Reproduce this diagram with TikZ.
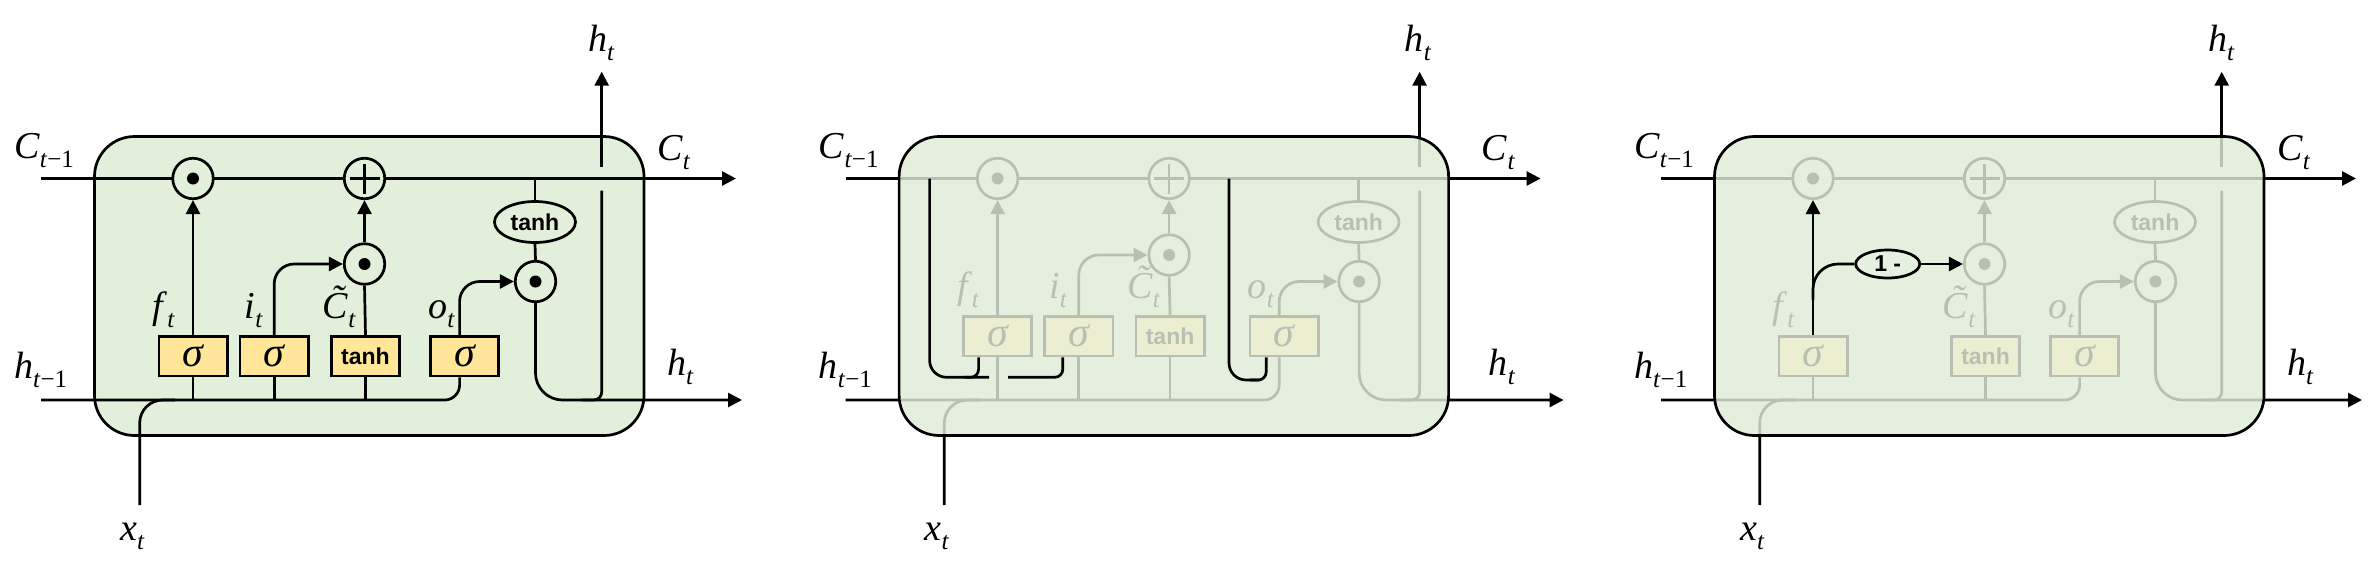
\documentclass[tikz,border=0pt]{standalone}
\usepackage{fontspec}
\setmainfont{Liberation Serif}
\setsansfont{Liberation Sans}
\usetikzlibrary{arrows.meta,shapes.geometric}
\definecolor{cellgreen}{HTML}{E2EFDA}
\definecolor{gateyellow}{HTML}{FFE699}
\definecolor{fadec}{HTML}{E6F0E0}
\pgfdeclarelayer{bgl}\pgfdeclarelayer{lines}\pgfdeclarelayer{over}\pgfdeclarelayer{top}
\pgfsetlayers{bgl,lines,main,over,top}
\newif\ifwithi
\newcommand\tanhtxt{{\sffamily\bfseries\fontsize{23}{25}\selectfont tanh}}
\newcommand\vlab[2]{\textit{#1}\raisebox{-9pt}{\fontsize{25}{27}\selectfont #2}}
\newcommand\tildeC{\textit{\rlap{\kern0.24em\raisebox{0.17em}{\char"02DC}}C}}
\newcommand\sigtxt{{\fontsize{42}{44}\selectfont\itshape σ}}
\tikzset{
  ln/.style={line width=2.7pt, draw=black},
  arr/.style={ln, -{Triangle[length=14pt,width=14pt]}},
  cellbox/.style={rectangle, inner sep=0pt, outer sep=0pt, minimum width=549.5pt, minimum height=299pt, fill=cellgreen, rounded corners=40pt},
  gate/.style={rectangle, ln, fill=gateyellow, minimum width=68.3pt, minimum height=39.6pt, inner sep=0pt},
  mul/.style={circle, ln, fill=cellgreen, minimum size=40.5pt, inner sep=0pt,
    path picture={\fill[black] (path picture bounding box.center) circle (6pt);}},
  addn/.style={circle, ln, fill=cellgreen, minimum size=40.5pt, inner sep=0pt,
    path picture={\draw[black, line width=2.7pt] (path picture bounding box.center) ++(-15pt,0pt) -- ++(30pt,0pt)
      (path picture bounding box.center) ++(0pt,-15pt) -- ++(0pt,30pt);}},
  thell/.style={ellipse, ln, fill=cellgreen, minimum width=81pt, minimum height=41pt, inner sep=0pt},
  onem/.style={ellipse, ln, fill=fadec, minimum width=64pt, minimum height=28pt, inner sep=0pt, font=\sffamily\bfseries\fontsize{23}{25}\selectfont},
  lab/.style={inner sep=0pt, font=\fontsize{38}{42}\selectfont},
}
\def\Cy{178.5}\def\Hy{400}
\newcommand\lstmcell[1]{%
  \begin{pgfonlayer}{bgl}
    \node[cellbox] (#1-cell) at (369.25,286) {};
  \end{pgfonlayer}
  \coordinate (#1-cin) at (41,\Cy);
  \coordinate (#1-cout) at (736,\Cy);
  \coordinate (#1-hin) at (41,\Hy);
  \coordinate (#1-hout) at (\htip,\Hy);
  \coordinate (#1-xin) at (139.7,505);
  \coordinate (#1-xj) at (175,\Hy);
  \coordinate (#1-hj) at (\hupx-20,\Hy);
  \coordinate (#1-hga) at (\hupx,190.7);
  \coordinate (#1-hgb) at (\hupx,166.7);
  \coordinate (#1-hup) at (\hupx,71.7);
  \node[mul] (#1-fm) at (193,\Cy) {};
  \node[addn] (#1-ad) at (364.5,\Cy) {};
  \node[mul] (#1-im) at (364.5,\mY) {};
  \node[mul] (#1-om) at (535.5+\rB,281.5) {};
  \node[thell] (#1-th) at (535+\rB,222) {\tanhtxt};
  \node[gate] (#1-fg) at (193,\gY) {\sigtxt};
  \ifwithi\node[gate] (#1-ig) at (274.2,\gY) {\sigtxt};\fi
  \node[gate] (#1-cg) at (365.5,\gY) {\tanhtxt};
  \node[gate] (#1-og) at (464.6+\rA,\gY) {\sigtxt};
  \node[lab, anchor=base east] (#1-fl) at (175,\labY) {\vlab{f}{\textit{t}}};
  \ifwithi\node[lab, anchor=base east] (#1-il) at (263,\labY) {\vlab{i}{\textit{t}}};\fi
  \node[lab, anchor=base east] (#1-cl) at (356,\labY) {\tildeC\raisebox{-9pt}{\fontsize{25}{27}\selectfont\textit{t}}};
  \node[lab, anchor=base east] (#1-ol) at (455+\rA,\labY) {\vlab{o}{\textit{t}}};
  \node[lab, anchor=base west] (#1-cinl) at (14,158) {\vlab{C}{\textit{t}−1}};
  \node[lab, anchor=base west] (#1-coutl) at (\ctx,160) {\vlab{C}{\textit{t}}};
  \node[lab, anchor=base west] (#1-hinl) at (14,378) {\vlab{h}{\textit{t}−1}};
  \node[lab, anchor=base west] (#1-houtl) at (\htx,375) {\vlab{h}{\textit{t}}};
  \node[lab, anchor=base west] (#1-hupl) at (\hux,51.7) {\vlab{h}{\textit{t}}};
  \node[lab, anchor=base west] (#1-xl) at (120,540) {\vlab{x}{\textit{t}}};
  \begin{pgfonlayer}{lines}
    \draw[arr] (#1-cin) -- (#1-cout);
    \draw[ln, rounded corners=15pt] (#1-hin) -| ([xshift=-5pt]#1-og.south);
    \draw[ln, rounded corners=23pt] (#1-xin) |- (#1-xj);
    \draw[ln] (#1-fg.south) -- (#1-fg.south |- #1-hin);
    \ifwithi
      \draw[ln] (#1-ig.south) -- (#1-ig.south |- #1-hin);
      \draw[arr, rounded corners=20pt] (#1-ig.north) |- (#1-im.west);
    \fi
    \draw[ln] (#1-cg.south) -- (#1-cg.south |- #1-hin);
    \draw[arr] (#1-fg.north) -- (#1-fm.south);
    \draw[ln] (#1-cg.north) -- (#1-im.south);
    \draw[arr] (#1-im.north) -- (#1-ad.south);
    \draw[arr, rounded corners=20pt] ([xshift=-5pt]#1-og.north) |- (#1-om.west);
    \draw[ln] (#1-th.north |- #1-cin) -- (#1-th.north);
    \draw[ln] (#1-th.south) -- (#1-om.north);
    \draw[arr, rounded corners=27pt] (#1-om.south) |- (#1-hout);
    \draw[ln, rounded corners=8pt] (#1-hj) -| (#1-hga);
    \draw[arr] (#1-hgb) -- (#1-hup);
  \end{pgfonlayer}
  \begin{pgfonlayer}{top}
    \draw[ln, rounded corners=40pt] (#1-cell.north west) rectangle (#1-cell.south east);
  \end{pgfonlayer}
}
\newcommand\fadecell[1]{%
  \begin{pgfonlayer}{over}
    \fill[fadec, opacity=0.8, rounded corners=40pt] (#1-cell.north west) rectangle (#1-cell.south east);
  \end{pgfonlayer}
}
\begin{document}
\begin{tikzpicture}[x=1pt, y=-1pt]
\begin{pgfonlayer}{bgl}
  \fill[white] (0,0) rectangle (2374,574);
\end{pgfonlayer}
\path[use as bounding box] (0,0) rectangle (2374,574);
% panel 1
\def\gY{356.2}\def\labY{318}\def\mY{264}\def\rA{0}\def\rB{0}
\def\hupx{601.7}\def\htip{742}\def\ctx{657}\def\htx{667}\def\hux{588}
\withitrue
\begin{scope}
  \lstmcell{p1}
\end{scope}
% panel 2
\def\gY{336.2}\def\labY{298}\def\mY{255}\def\rA{15}\def\rB{19}
\def\hupx{615}\def\htip{759}\def\ctx{677}\def\htx{684}\def\hux{600}
\begin{scope}[xshift=804.6pt]
  \lstmcell{p2}
  \fadecell{p2}
  \coordinate (p2-ab) at (125,\Cy);
  \coordinate (p2-ac) at (184.5,377.3);
  \coordinate (p2-ad) at (203.6,377.3);
  \coordinate (p2-ae) at (160,377.3);
  \coordinate (p2-bb) at (424.4,\Cy);
  \coordinate (p2-bc) at (455,380);
  \coordinate (p2-bd) at (445,380);
  \begin{pgfonlayer}{top}
    \draw[ln, rounded corners=17pt] (p2-ab) |- (p2-ac);
    \draw[ln, rounded corners=8pt] (p2-ae) -| ([xshift=-19pt]p2-fg.south);
    \draw[ln, rounded corners=8pt] (p2-ad) -| ([xshift=-16pt]p2-ig.south);
    \draw[ln, rounded corners=17pt] (p2-bb) |- (p2-bc);
    \draw[ln, rounded corners=8pt] (p2-bd) -| ([xshift=-18pt]p2-og.south);
  \end{pgfonlayer}
\end{scope}
% panel 3
\def\gY{356.2}\def\labY{318}\def\mY{264}\def\rA{0}\def\rB{0}
\def\hupx{601.7}\def\htip{742}\def\ctx{657}\def\htx{667}\def\hux{588}
\withifalse
\begin{scope}[xshift=1620pt]
  \lstmcell{p3}
  \fadecell{p3}
  \coordinate (p3-fbr) at (193,300);
  \begin{pgfonlayer}{top}
    \node[onem] (p3-one) at (267.7,264) {1 -};
    \draw[arr] (p3-fg.north) -- (p3-fm.south);
    \draw[ln, rounded corners=25pt] (p3-fbr) |- (p3-one.west);
    \draw[arr] (p3-one.east) -- (p3-im.west);
  \end{pgfonlayer}
\end{scope}
\end{tikzpicture}
\end{document}
